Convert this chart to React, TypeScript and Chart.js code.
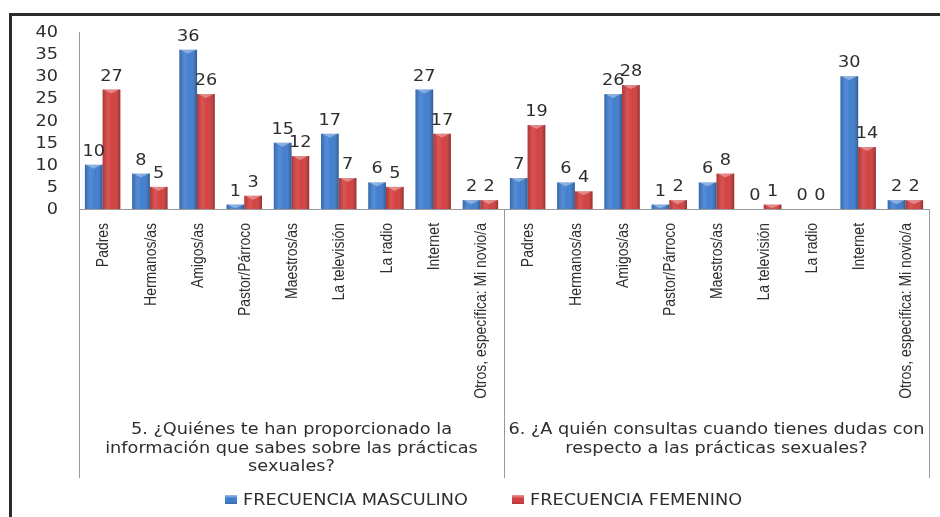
import React, { useEffect, useRef } from "react";
import { Chart, registerables } from "chart.js";

Chart.register(...registerables);

const categories = [
  "Padres", "Hermanos/as", "Amigos/as", "Pastor/Párroco", "Maestros/as",
  "La televisión", "La radio", "Internet", "Otros, específica: Mi novio/a",
  "Padres", "Hermanos/as", "Amigos/as", "Pastor/Párroco", "Maestros/as",
  "La televisión", "La radio", "Internet", "Otros, específica: Mi novio/a",
];
const masculino = [10, 8, 36, 1, 15, 17, 6, 27, 2, 7, 6, 26, 1, 6, 0, 0, 30, 2];
const femenino = [27, 5, 26, 3, 12, 7, 5, 17, 2, 19, 4, 28, 2, 8, 1, 0, 14, 2];
const groupLabels = [
  ["5. ¿Quiénes te han proporcionado la", "información que sabes sobre las prácticas", "sexuales?"],
  ["6. ¿A quién consultas cuando tienes dudas con", "respecto a las prácticas sexuales?"],
];
const groupSize = 9;
const seriesNames = ["FRECUENCIA MASCULINO", "FRECUENCIA FEMENINO"];
const yTicks = [0, 5, 10, 15, 20, 25, 30, 35, 40];

const BLUE = "#3E7CCE";
const RED = "#D23D3D";
const SX = 1.18;
const FONT = '15px "DejaVu Sans"';
const TEXT = "#2e2e2e";

function sText(ctx: CanvasRenderingContext2D, text: string, x: number, y: number, align: string, color = TEXT) {
  ctx.save();
  ctx.font = FONT;
  const w = ctx.measureText(text).width * SX;
  const left = align === "center" ? x - w / 2 : align === "right" ? x - w : x;
  ctx.translate(left, y);
  ctx.scale(SX, 1);
  ctx.textAlign = "left";
  ctx.textBaseline = "alphabetic";
  ctx.fillStyle = color;
  ctx.fillText(text, 0, 0);
  ctx.restore();
}

const decorPlugin = {
  id: "decor",
  afterDatasetsDraw(chart: any) {
    const ctx = chart.ctx as CanvasRenderingContext2D;
    chart.data.datasets.forEach((ds: any, di: number) => {
      const meta = chart.getDatasetMeta(di);
      meta.data.forEach((el: any, i: number) => {
        const { x, y, base, width } = el.getProps(["x", "y", "base", "width"], true);
        const h = base - y;
        if (h > 0.5) {
          const l = x - width / 2;
          const g = ctx.createLinearGradient(l, 0, l + width, 0);
          g.addColorStop(0, "rgba(0,0,0,0.16)");
          g.addColorStop(0.3, "rgba(255,255,255,0.12)");
          g.addColorStop(0.6, "rgba(255,255,255,0.02)");
          g.addColorStop(1, "rgba(0,0,0,0.28)");
          ctx.save();
          ctx.fillStyle = g;
          ctx.fillRect(l, y, width, h);
          const th = Math.min(4, h);
          ctx.fillStyle = "rgba(255,255,255,0.35)";
          ctx.beginPath();
          ctx.moveTo(l + 1, y);
          ctx.lineTo(l + width - 1, y);
          ctx.lineTo(x, y + th);
          ctx.closePath();
          ctx.fill();
          ctx.restore();
        }
        sText(ctx, String(ds.data[i]), x, y - 9, "center");
      });
    });
  },
  afterDraw(chart: any) {
    const ctx = chart.ctx as CanvasRenderingContext2D;
    const area = chart.chartArea;
    const xs = chart.scales.x;
    const ys = chart.scales.y;
    const lineBottom = 478;

    yTicks.forEach((v) => {
      const py = ys.getPixelForValue(v);
      sText(ctx, String(v), area.left - 21, py + 5, "right");
    });

    categories.forEach((c, i) => {
      const px = xs.getPixelForTick(i);
      ctx.save();
      ctx.translate(px + 1, area.bottom + 14);
      ctx.rotate(-Math.PI / 2);
      ctx.scale(0.82, 1);
      ctx.font = '17px "Liberation Sans"';
      ctx.fillStyle = TEXT;
      ctx.textAlign = "right";
      ctx.textBaseline = "middle";
      ctx.fillText(c, 0, 0);
      ctx.restore();
    });

    ctx.save();
    ctx.strokeStyle = "#9a9a9a";
    ctx.lineWidth = 1;
    const n = categories.length;
    const step = (area.right - area.left) / n;
    const seps = [area.left, area.left + step * groupSize, area.right];
    seps.forEach((sx, k) => {
      const px = Math.round(sx) + 0.5;
      ctx.beginPath();
      ctx.moveTo(px, k === 0 ? area.top : area.bottom);
      ctx.lineTo(px, lineBottom);
      ctx.stroke();
    });
    ctx.restore();

    groupLabels.forEach((lines, gi) => {
      const cx = (seps[gi] + seps[gi + 1]) / 2;
      lines.forEach((t, li) => {
        sText(ctx, t, cx, 434 + li * 18.5, "center");
      });
    });

    const legendItems = [
      { x: 225, color: BLUE, text: seriesNames[0] },
      { x: 512, color: RED, text: seriesNames[1] },
    ];
    legendItems.forEach((it) => {
      const g = ctx.createLinearGradient(0, 495, 0, 504);
      g.addColorStop(0, "rgba(255,255,255,0.5)");
      g.addColorStop(0.4, "rgba(255,255,255,0)");
      g.addColorStop(1, "rgba(0,0,0,0.15)");
      ctx.fillStyle = it.color;
      ctx.fillRect(it.x, 495, 12, 9);
      ctx.fillStyle = g;
      ctx.fillRect(it.x, 495, 12, 9);
      sText(ctx, it.text, it.x + 18, 505, "left");
    });

    ctx.save();
    ctx.strokeStyle = "#2b2b2b";
    ctx.lineWidth = 3;
    ctx.beginPath();
    ctx.moveTo(10.5, 540);
    ctx.lineTo(10.5, 14.5);
    ctx.lineTo(960, 14.5);
    ctx.stroke();
    ctx.restore();
  },
};

export default function App() {
  const ref = useRef<HTMLCanvasElement | null>(null);
  useEffect(() => {
    document.body.style.margin = "0";
    const canvas = ref.current!;
    const chart = new Chart(canvas, {
      type: "bar",
      data: {
        labels: categories,
        datasets: [
          { label: seriesNames[0], data: masculino, backgroundColor: BLUE, borderWidth: 0 },
          { label: seriesNames[1], data: femenino, backgroundColor: RED, borderWidth: 0 },
        ],
      },
      options: {
        responsive: false,
        animation: false,
        devicePixelRatio: 1,
        layout: { padding: { left: 0, top: 32, right: 11, bottom: 0 } },
        plugins: { legend: { display: false }, tooltip: { enabled: false } },
        datasets: { bar: { categoryPercentage: 0.75, barPercentage: 1 } },
        scales: {
          x: {
            grid: { display: false, drawTicks: false },
            border: { display: true, color: "#9a9a9a" },
            ticks: { display: false, autoSkip: false },
            afterFit: (s: any) => { s.height = 308; },
          },
          y: {
            min: 0,
            max: 40,
            ticks: { display: false, stepSize: 5 },
            grid: { display: false, drawTicks: false },
            border: { display: true, color: "#9a9a9a" },
            afterFit: (s: any) => { s.width = 79; },
          },
        },
      },
      plugins: [decorPlugin],
    } as any);
    return () => chart.destroy();
  }, []);
  return (
    <div style={{ width: 940, height: 517, position: "relative", background: "#fff" }}>
      <canvas ref={ref} width={940} height={517} style={{ display: "block" }} />
    </div>
  );
}
